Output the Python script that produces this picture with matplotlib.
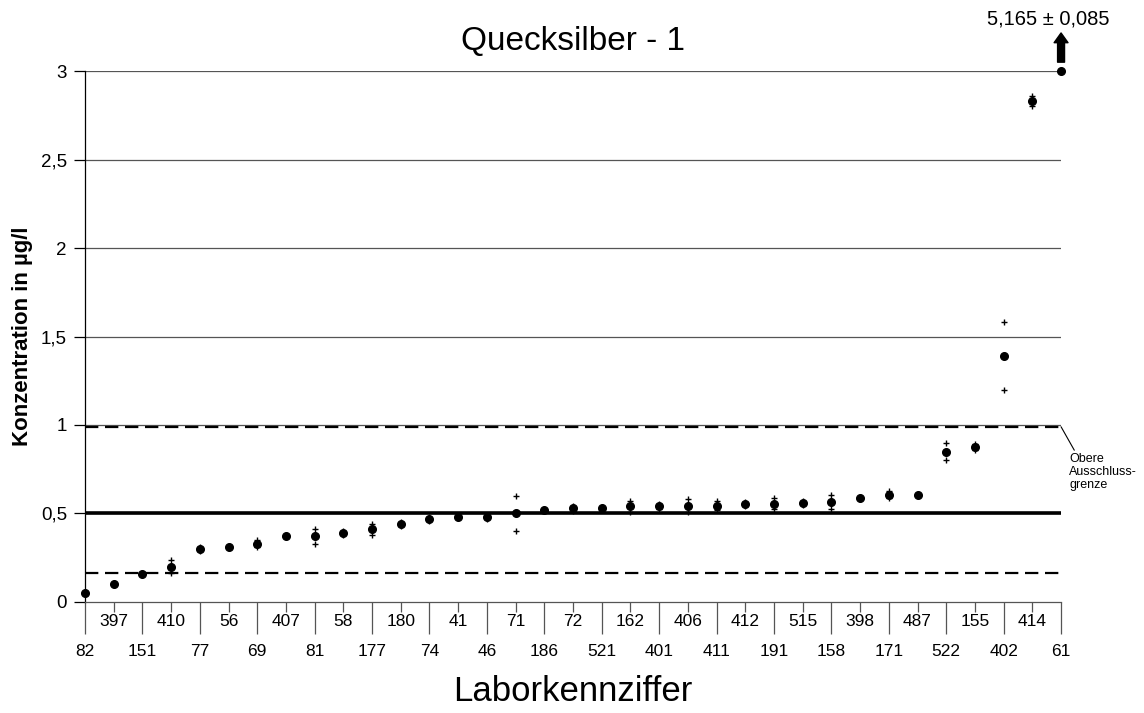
import numpy as np
import matplotlib
matplotlib.use("Agg")
import matplotlib.pyplot as plt
from matplotlib.ticker import FixedLocator, FuncFormatter

plt.rcParams["font.family"] = ["Liberation Sans", "DejaVu Sans"]

# ---- DATA ----
labs = ["82", "397", "151", "410", "77", "56", "69", "407", "81", "58",
        "177", "180", "74", "41", "46", "71", "186", "72", "521", "162",
        "401", "406", "411", "412", "191", "515", "158", "398", "171", "487",
        "522", "155", "402", "414", "61"]
means = [0.05, 0.10, 0.16, 0.20, 0.30, 0.31, 0.33, 0.37, 0.37, 0.39,
         0.41, 0.44, 0.47, 0.48, 0.48, 0.50, 0.52, 0.53, 0.53, 0.54,
         0.54, 0.545, 0.545, 0.555, 0.555, 0.56, 0.565, 0.59, 0.605, 0.605,
         0.85, 0.875, 1.39, 2.83, 3.0]
sds = [0.0, 0.0, 0.0, 0.035, 0.01, 0.0, 0.02, 0.0, 0.04, 0.01,
       0.03, 0.01, 0.01, 0.0, 0.01, 0.10, 0.0, 0.015, 0.0, 0.03,
       0.015, 0.035, 0.025, 0.01, 0.03, 0.01, 0.04, 0.0, 0.02, 0.0,
       0.05, 0.015, 0.19, 0.03, 0.0]
ref_value = 0.50
lower_limit = 0.165
upper_limit = 0.99
outlier_text = "5,165 ± 0,085"

x = np.arange(len(labs))
means = np.array(means)
sds = np.array(sds)

fig = plt.figure(figsize=(11.44, 7.13), dpi=100)
ax = fig.add_axes([0.0743, 0.1557, 0.8532, 0.7447])

# grid lines
for g in [0.5, 1.0, 1.5, 2.0, 2.5, 3.0]:
    ax.axhline(g, color="#555555", lw=0.9, zorder=1)

# reference and limits
ax.axhline(ref_value, color="black", lw=2.6, zorder=2)
ax.axhline(lower_limit, color="black", lw=1.6, ls=(0, (6, 3)), zorder=2)
ax.axhline(upper_limit, color="black", lw=1.6, ls=(0, (6, 3)), zorder=2)

# data
ax.plot(x, means, "o", color="black", ms=5.5, zorder=4, clip_on=False)
has_sd = sds > 0
ax.plot(x[has_sd], (means + sds)[has_sd], "+", color="black", ms=5, mew=1, zorder=4)
ax.plot(x[has_sd], (means - sds)[has_sd], "+", color="black", ms=5, mew=1, zorder=4)

ax.set_xlim(0, len(labs) - 1)
ax.set_ylim(0, 3)

# outlier arrow
ax.annotate("", xy=(x[-1], 3.215), xytext=(x[-1], 3.05),
            arrowprops=dict(arrowstyle="simple,head_width=1.0,head_length=0.7,tail_width=0.5",
                            color="black", shrinkA=0, shrinkB=0),
            annotation_clip=False)
ax.text(x[-1] - 0.45, 3.295, outlier_text, ha="center", va="center", fontsize=14.5,
        clip_on=False)

# upper limit annotation
ax.annotate("Obere\nAusschluss-\ngrenze", xy=(x[-1], upper_limit),
            xytext=(x[-1] + 0.28, 0.735), fontsize=9, ha="left", va="center",
            linespacing=1.1,
            arrowprops=dict(arrowstyle="-", color="black", lw=0.8,
                            shrinkA=0, shrinkB=0,
                            relpos=(0.1, 1.0)),
            annotation_clip=False)

# spines
for s in ["top", "right"]:
    ax.spines[s].set_visible(False)
ax.spines["left"].set_linewidth(0.9)
ax.spines["bottom"].set_linewidth(0.9)
ax.spines["bottom"].set_color("#555555")

# y ticks
ax.set_yticks([0, 0.5, 1, 1.5, 2, 2.5, 3])
ax.yaxis.set_major_formatter(FuncFormatter(lambda v, p: f"{v:g}".replace(".", ",")))
ax.tick_params(axis="y", length=8, width=0.9, labelsize=13.5, pad=5)

# x ticks: even labs on lower row, odd labs on upper row
even = x[::2]
odd = x[1::2]
ax.xaxis.set_major_locator(FixedLocator(even))
ax.xaxis.set_minor_locator(FixedLocator(odd))
ax.set_xticklabels([labs[i] for i in even])
ax.set_xticklabels([labs[i] for i in odd], minor=True)
ax.tick_params(axis="x", which="major", length=23, width=0.9, labelsize=12.5, pad=7,
               color="#555555")
ax.tick_params(axis="x", which="minor", length=7, width=0.9, labelsize=12.5, pad=1.5,
               color="#555555")

ax.set_ylabel("Konzentration in µg/l", fontsize=16, fontweight="bold")
ax.yaxis.set_label_coords(-0.0645, 0.5)
ax.yaxis.label.set_va("center")
ax.set_xlabel("Laborkennziffer", fontsize=25)
ax.xaxis.set_label_coords(0.5, -0.1695)
ax.xaxis.label.set_va("center")
ax.set_title("Quecksilber - 1", fontsize=24, pad=15)

fig.savefig("out.png", dpi=100)
